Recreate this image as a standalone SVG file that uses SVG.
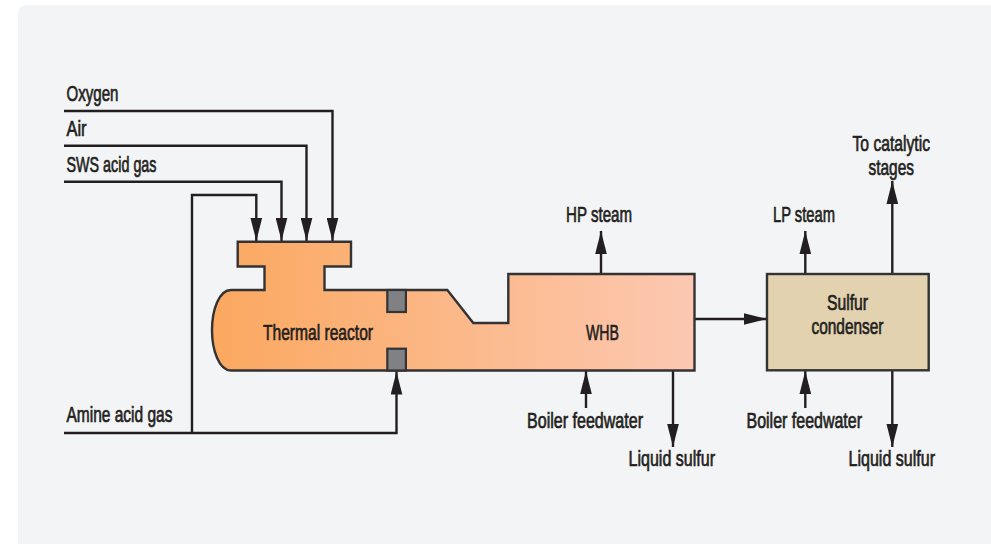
<svg xmlns="http://www.w3.org/2000/svg" width="991" height="544" viewBox="0 0 991 544">
<style>
text{font-family:"Liberation Sans",Arial,sans-serif;font-size:22px;fill:#231f20;stroke:#231f20;stroke-width:.7px}
.s{stroke:#333234;stroke-width:2.4;stroke-linejoin:miter}
.c{fill:none;stroke:#231f20;stroke-width:2.4}
.g{fill:#808184;stroke:#333234;stroke-width:2.2}
</style>
<defs>
<linearGradient id="grad" gradientUnits="userSpaceOnUse" x1="212" y1="0" x2="695" y2="0">
<stop offset="0" stop-color="#fba85f"/><stop offset="1" stop-color="#fcc8b2"/>
</linearGradient>
<marker id="a" markerUnits="userSpaceOnUse" markerWidth="23" markerHeight="12" refX="23" refY="6" orient="auto" viewBox="0 0 23 12"><path d="M0 0.2L23 6L0 11.8Z" fill="#231f20"/></marker>
</defs>
<rect width="991" height="544" fill="#fff"/>
<path d="M18 544V14Q18 5 27 5H991V544Z" fill="#f3f4f6"/>
<g id="connectors">
<path class="c" marker-end="url(#a)" d="M64 111H332.5V241"/>
<path class="c" marker-end="url(#a)" d="M64 145.7H306.5V241"/>
<path class="c" marker-end="url(#a)" d="M64 181.7H281.5V241"/>
<path class="c" marker-end="url(#a)" d="M192 433V195H256.3V241"/>
<path class="c" marker-end="url(#a)" d="M64 433H396.5V371.5"/>
<path class="c" marker-end="url(#a)" d="M601 274V231"/>
<path class="c" marker-end="url(#a)" d="M586 408V371"/>
<path class="c" marker-end="url(#a)" d="M673 370V447"/>
<path class="c" marker-end="url(#a)" d="M694.5 319H766.5"/>
<path class="c" marker-end="url(#a)" d="M805.3 274V231"/>
<path class="c" marker-end="url(#a)" d="M892.3 274V181"/>
<path class="c" marker-end="url(#a)" d="M805.3 408V371"/>
<path class="c" marker-end="url(#a)" d="M892.3 370V447"/>
</g>
<g id="thermal-reactor-whb">
<path class="s" fill="url(#grad)" d="M237.7 241.7H351V266.5H324.5V290H447.3L473.3 323H508.3V274H694.5V370.5H231C219 370.5 212 350 212 330C212 310 219 290 231 290H264.5V266.5H237.7Z"/>
<rect class="g" x="387.3" y="290" width="18.6" height="22"/>
<rect class="g" x="387.3" y="348.7" width="18.6" height="21.8"/>
<text x="263" y="339.5" textLength="110" lengthAdjust="spacingAndGlyphs">Thermal reactor</text>
<text x="586" y="339.5" textLength="33" lengthAdjust="spacingAndGlyphs">WHB</text>
</g>
<g id="sulfur-condenser">
<rect class="s" x="767" y="274" width="161.7" height="96.3" fill="#e2d2b0"/>
<text x="827" y="310" textLength="41" lengthAdjust="spacingAndGlyphs">Sulfur</text>
<text x="811.5" y="333.5" textLength="72" lengthAdjust="spacingAndGlyphs">condenser</text>
</g>
<g id="labels">
<text x="66.5" y="101" textLength="52" lengthAdjust="spacingAndGlyphs">Oxygen</text>
<text x="66.5" y="136" textLength="20" lengthAdjust="spacingAndGlyphs">Air</text>
<text x="66.5" y="171.5" textLength="90" lengthAdjust="spacingAndGlyphs">SWS acid gas</text>
<text x="66.5" y="422" textLength="106" lengthAdjust="spacingAndGlyphs">Amine acid gas</text>
<text x="566" y="222" textLength="66" lengthAdjust="spacingAndGlyphs">HP steam</text>
<text x="773" y="222" textLength="62" lengthAdjust="spacingAndGlyphs">LP steam</text>
<text x="852.5" y="151" textLength="77.5" lengthAdjust="spacingAndGlyphs">To catalytic</text>
<text x="868.5" y="174.5" textLength="45.5" lengthAdjust="spacingAndGlyphs">stages</text>
<text x="527" y="428" textLength="116" lengthAdjust="spacingAndGlyphs">Boiler feedwater</text>
<text x="746.5" y="428" textLength="115.5" lengthAdjust="spacingAndGlyphs">Boiler feedwater</text>
<text x="628.5" y="465.5" textLength="86.5" lengthAdjust="spacingAndGlyphs">Liquid sulfur</text>
<text x="848.5" y="465.5" textLength="86.5" lengthAdjust="spacingAndGlyphs">Liquid sulfur</text>
</g>
</svg>
